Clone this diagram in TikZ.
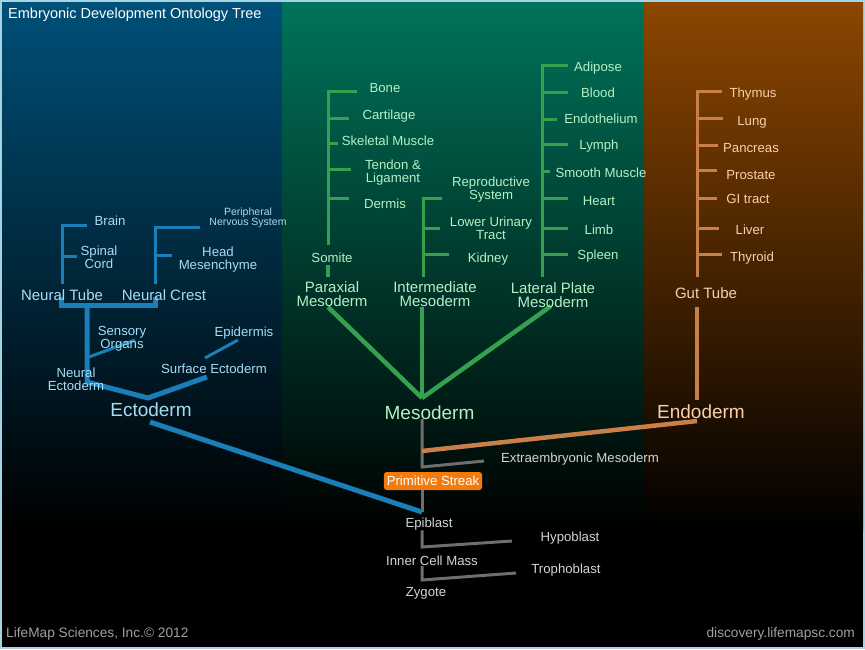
\documentclass[tikz,border=0pt]{standalone}
\usepackage{fontspec}
\setmainfont{Liberation Sans}
\usetikzlibrary{positioning}

% colours
\definecolor{frameCol}{HTML}{A4D4E4}
\definecolor{ectoBg}{HTML}{005078}
\definecolor{mesoBg}{HTML}{00735A}
\definecolor{endoBg}{HTML}{8C4600}
\definecolor{ectoLn}{HTML}{1A7FB8}
\definecolor{ectoFg}{HTML}{A8DCF2}
\definecolor{mesoLn}{HTML}{35A04E}
\definecolor{mesoFg}{HTML}{B4F0C4}
\definecolor{endoLn}{HTML}{C98048}
\definecolor{endoFg}{HTML}{F8D0AC}
\definecolor{stemLn}{HTML}{6E6E6E}
\definecolor{stemFg}{HTML}{D4D4D4}
\definecolor{streakBg}{HTML}{F57A0C}
\definecolor{footFg}{HTML}{A0A0A0}

\tikzset{
  lbl/.style={inner sep=0pt, align=center, font=\fontsize{13.2}{13}\selectfont},
  midlbl/.style={lbl, font=\fontsize{15}{14}\selectfont},
  biglbl/.style={lbl, font=\fontsize{19}{19}\selectfont},
  tinylbl/.style={lbl, font=\fontsize{10.5}{10}\selectfont},
  toplbl/.style={lbl, font=\fontsize{14.5}{14}\selectfont},
  footlbl/.style={lbl, font=\fontsize{13.7}{13}\selectfont, text=footFg},
  ectoLine/.style={draw=ectoLn, line width=3pt},
  ectoThick/.style={ectoLine, line width=5pt},
  mesoLine/.style={draw=mesoLn, line width=3pt},
  mesoThick/.style={mesoLine, line width=4.5pt},
  endoLine/.style={draw=endoLn, line width=3pt},
  endoThick/.style={endoLine, line width=4.5pt},
  stemLine/.style={draw=stemLn, line width=3pt},
  streak/.style={fill=streakBg, rounded corners=3pt, text=white, inner xsep=3pt,
    minimum height=18pt, font=\fontsize{13.2}{13}\selectfont}
}

\begin{document}
\begin{tikzpicture}[x=1pt, y=-1pt]
\useasboundingbox (0,0) rectangle (865,649);

% Background columns
\fill[frameCol] (0,0) rectangle (865,649);
\fill[black] (2,2) rectangle (863,647);
\shade[top color=ectoBg, bottom color=black] (2,2) rectangle (282,530);
\shade[top color=mesoBg, bottom color=black] (282,2) rectangle (644,530);
\shade[top color=endoBg, bottom color=black] (644,2) rectangle (863,530);

% Title and footer
\node[toplbl, anchor=west, text=white] (title) at (8,15) {Embryonic Development Ontology Tree};
\node[footlbl, anchor=west] (copy) at (6,634) {LifeMap Sciences, Inc.© 2012};
\node[footlbl, anchor=east] (site) at (855,634) {discovery.lifemapsc.com};

% Ectoderm branch
\coordinate (brain-t) at (87,225);
\coordinate (nt-bot) at (62,284);
\coordinate (pns-t) at (200,227);
\coordinate (nc-bot) at (155,284);
\draw[ectoLine] (brain-t) -| (nt-bot);
\draw[ectoLine] (pns-t) -| (nc-bot);
\coordinate (spinal-t) at (77,256);
\coordinate (head-t) at (172,255);
\draw[ectoLine] (nt-bot |- spinal-t) -- (spinal-t);
\draw[ectoLine] (nc-bot |- head-t) -- (head-t);

\coordinate (nt-u) at (61,297);
\coordinate (nc-u) at (155,297);
\coordinate (ne-top) at (87,305);
\coordinate (ne-j) at (87,382);
\coordinate (ecto-j) at (148,398);
\coordinate (se-j) at (207,377);
\draw[ectoThick, line join=miter] (nt-u) -- ++(0,8) -| (nc-u);
\draw[ectoThick] (ne-top) -- (ne-j) -- (ecto-j) -- (se-j);
\coordinate (so-a) at (89,357);
\coordinate (so-b) at (135,340);
\coordinate (ep-a) at (205,358);
\coordinate (ep-b) at (238,340);
\draw[ectoLine] (so-a) -- (so-b);
\draw[ectoLine] (ep-a) -- (ep-b);

\foreach \name/\x/\y/\txt in {brain/110/221/Brain, spinal/99/257/{Spinal\\Cord},
    head/218/259.5/{Head\\Mesenchyme}, sensory/122/339/{Sensory\\Organs},
    epiderm/244/333/Epidermis, surface/214/369/Surface Ectoderm,
    neuralecto/76/379/{Neural\\Ectoderm}} {
  \node[lbl, text=ectoFg] (\name) at (\x,\y) {\txt};
}
\node[tinylbl, text=ectoFg] (pns) at (248,218) {Peripheral\\Nervous System};
\node[midlbl, text=ectoFg] (tube) at (62,295) {Neural Tube};
\node[midlbl, text=ectoFg] (crest) at (164,295) {Neural Crest};
\node[biglbl, text=ectoFg] (ecto) at (151,410) {Ectoderm};

% Mesoderm branch
\coordinate (bone-t) at (357,91);
\coordinate (pax-bot) at (328,245);
\draw[mesoLine] (bone-t) -| (pax-bot);
\foreach \tick/\x/\y in {cart/349/118, skel/338/143, tendon/351/169, dermis/349/198} {
  \coordinate (\tick-t) at (\x,\y);
  \draw[mesoLine] (pax-bot |- \tick-t) -- (\tick-t);
}
\coordinate (somite-a) at (328,265);
\coordinate (somite-b) at (328,277);
\draw[mesoThick] (somite-a) -- (somite-b);

\coordinate (repro-t) at (442,198);
\coordinate (int-bot) at (423,277);
\draw[mesoLine] (repro-t) -| (int-bot);
\foreach \tick/\x/\y in {urinary/440/228, kidney/449/254} {
  \coordinate (\tick-t) at (\x,\y);
  \draw[mesoLine] (int-bot |- \tick-t) -- (\tick-t);
}

\coordinate (adipose-t) at (568,65);
\coordinate (lat-bot) at (542,277);
\draw[mesoLine] (adipose-t) -| (lat-bot);
\foreach \tick/\x/\y in {blood/568/92, endoth/557/119, lymph/568/144, smooth/550/171,
    heart/568/198, limb/568/228, spleen/568/254} {
  \coordinate (\tick-t) at (\x,\y);
  \draw[mesoLine] (lat-bot |- \tick-t) -- (\tick-t);
}

\coordinate (pax-out) at (328,307);
\coordinate (int-out) at (422,307);
\coordinate (lat-out) at (551,306);
\coordinate (meso-j) at (422,398);
\draw[mesoThick] (pax-out) -- (meso-j);
\draw[mesoThick] (int-out) -- (meso-j);
\draw[mesoThick] (lat-out) -- (meso-j);

\foreach \name/\x/\y/\txt in {bone/385/88/Bone, cart/389/116/Cartilage,
    skel/388/141/Skeletal Muscle, tendon/393/172.5/{Tendon \&\\Ligament},
    dermis/385/204/Dermis, somite/332/258/Somite,
    repro/491/189.5/{Reproductive\\System}, urinary/491/228/{Lower Urinary\\Tract},
    kidney/488/259/Kidney, adipose/598/68/Adipose, blood/598/93/Blood,
    endoth/601/119/Endothelium, lymph/599/146/Lymph, smooth/601/173/Smooth Muscle,
    heart/599/201/Heart, limb/599/230/Limb, spleen/598/256/Spleen} {
  \node[lbl, text=mesoFg] (\name) at (\x,\y) {\txt};
}
\node[midlbl, text=mesoFg] (paraxial) at (332,294.5) {Paraxial\\Mesoderm};
\node[midlbl, text=mesoFg] (intermed) at (435,294.5) {Intermediate\\Mesoderm};
\node[midlbl, text=mesoFg] (lateral) at (553,295) {Lateral Plate\\Mesoderm};
\node[biglbl, text=mesoFg] (meso) at (429.5,413) {Mesoderm};

% Endoderm branch
\coordinate (thymus-t) at (722,91);
\coordinate (gut-bot) at (697,277);
\draw[endoLine] (thymus-t) -| (gut-bot);
\foreach \tick/\x/\y in {lung/723/118, pancreas/718/145, prostate/717/170,
    gi/717/198, liver/719/228, thyroid/722/254} {
  \coordinate (\tick-t) at (\x,\y);
  \draw[endoLine] (gut-bot |- \tick-t) -- (\tick-t);
}
\coordinate (gut-out) at (697,307);
\coordinate (endo-top) at (697,400);
\draw[endoThick] (gut-out) -- (endo-top);

\foreach \name/\x/\y/\txt in {thymus/753/94/Thymus, lung/752/122/Lung,
    pancreas/751/148/Pancreas, prostate/751/175/Prostate, gi/748/199/GI tract,
    liver/750/230/Liver, thyroid/752/258/Thyroid} {
  \node[lbl, text=endoFg] (\name) at (\x,\y) {\txt};
}
\node[midlbl, text=endoFg] (gut) at (706,293) {Gut Tube};
\node[biglbl, text=endoFg] (endo) at (701,412) {Endoderm};

% Early stem
\coordinate (meso-out) at (422,419);
\coordinate (xm-j) at (422,467);
\coordinate (xm-t) at (484,461);
\draw[stemLine] (meso-out) -- (xm-j) -- (xm-t);
\coordinate (endo-out) at (697,421);
\coordinate (endo-in) at (422,451);
\draw[endoThick] (endo-out) -- (endo-in);

\node[streak] (ps) at (433,481) {Primitive Streak};
\coordinate (epi-j) at (422,512);
\draw[stemLine] (ps.south -| meso-out) -- (epi-j);
\coordinate (ecto-out) at (150,422);
\draw[ectoThick] (ecto-out) -- (epi-j);

\foreach \name/\x/\y/\txt in {extra/580/459/Extraembryonic Mesoderm, epi/429/524/Epiblast,
    hypo/570/538/Hypoblast, icm/432/561/Inner Cell Mass, tropho/566/570/Trophoblast,
    zygote/426/593/Zygote} {
  \node[lbl, text=stemFg] (\name) at (\x,\y) {\txt};
}
\coordinate (icm-j) at (422,547);
\coordinate (hypo-t) at (512,541);
\draw[stemLine] (epi.south -| icm-j) -- (icm-j) -- (hypo-t);
\coordinate (zy-j) at (422,580);
\coordinate (tropho-t) at (516,573);
\draw[stemLine] (icm.south -| zy-j) -- (zy-j) -- (tropho-t);

\end{tikzpicture}
\end{document}
